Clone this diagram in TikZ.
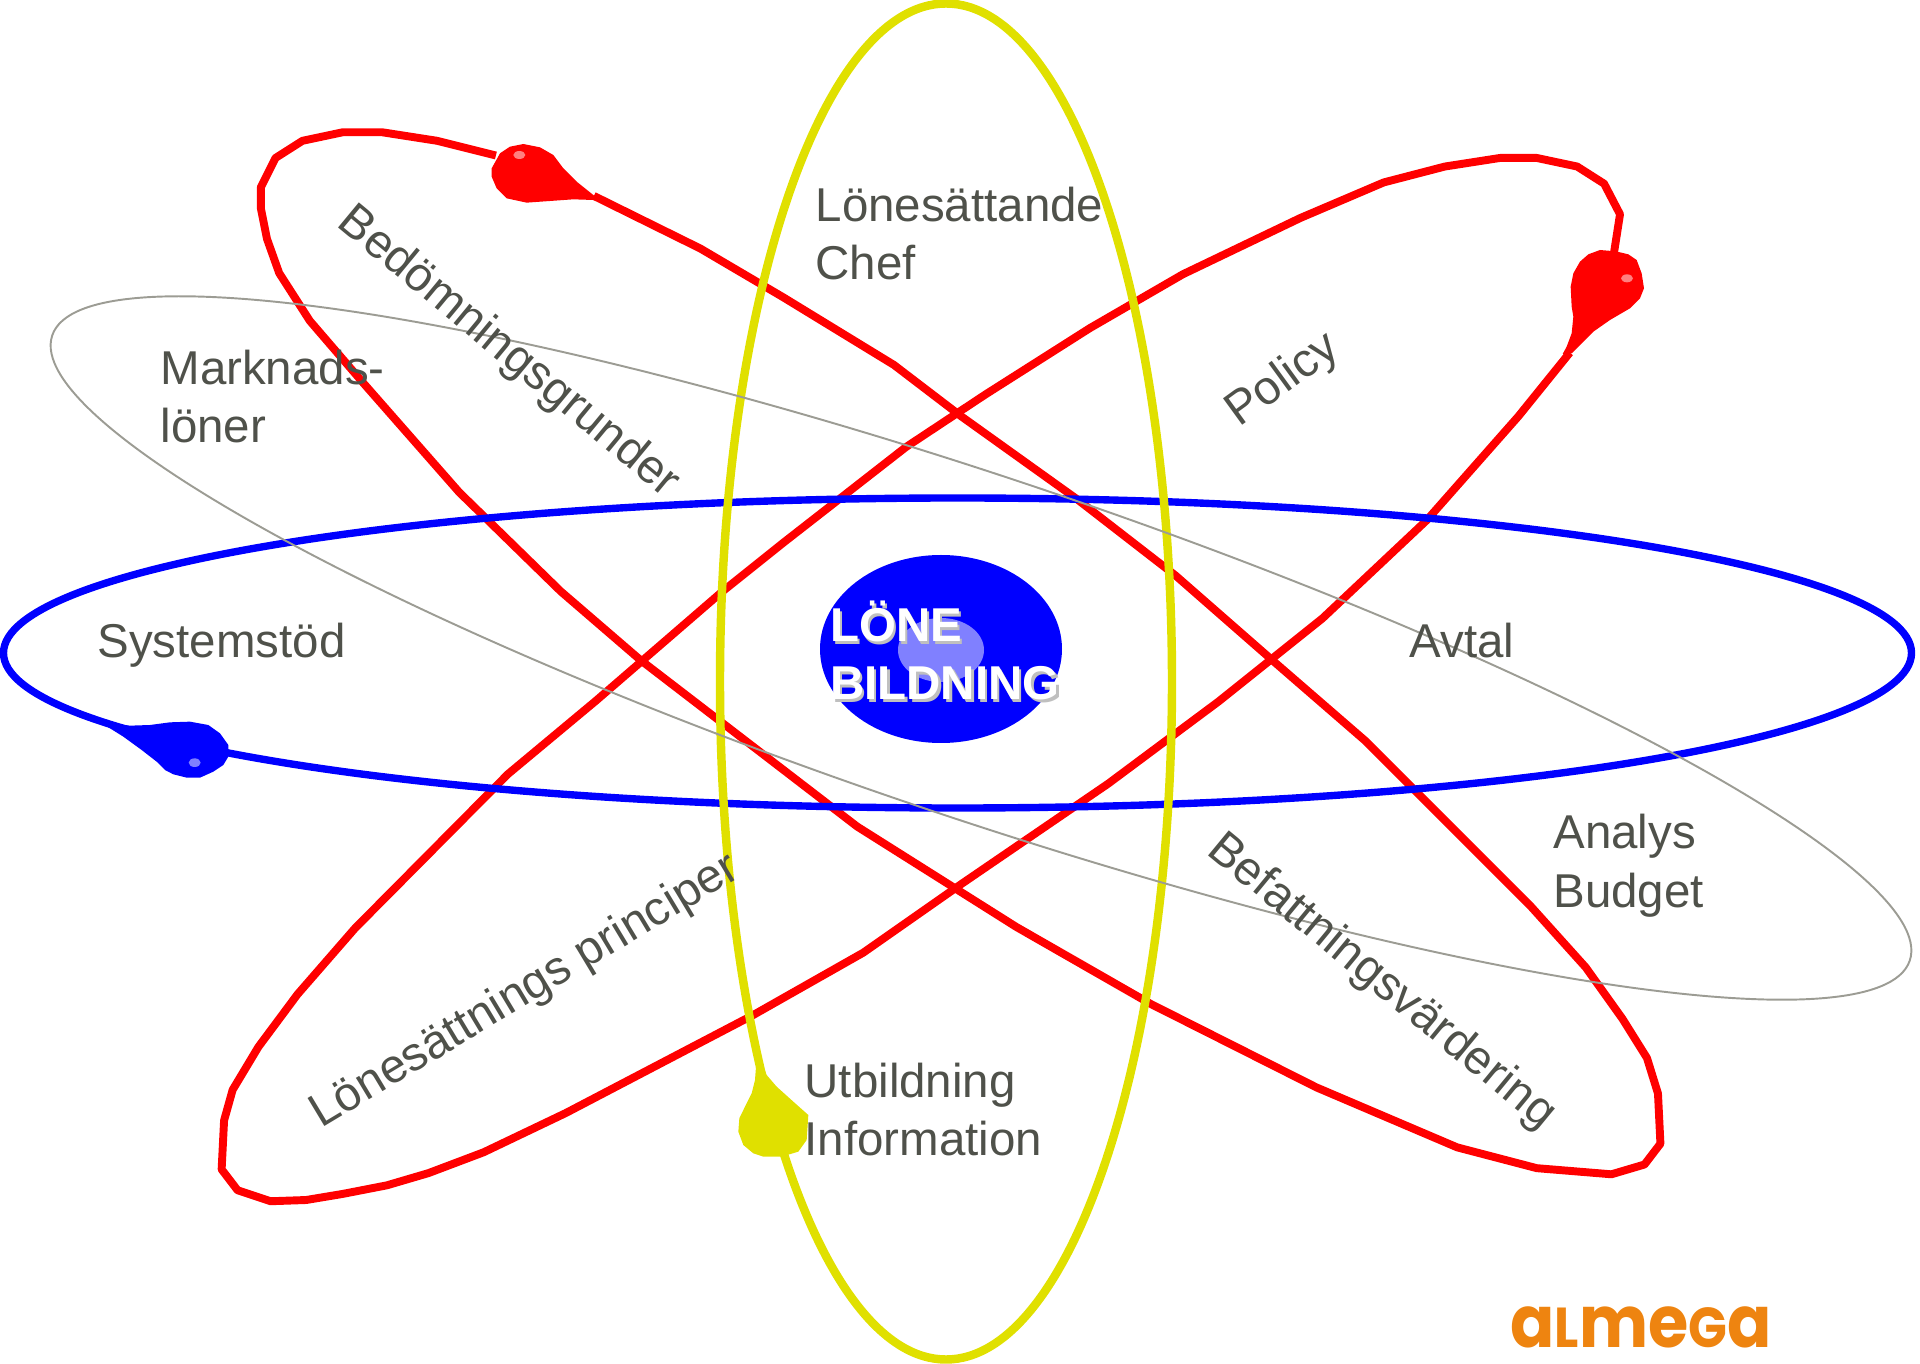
\documentclass[tikz,border=0pt]{standalone}
\usepackage{fontspec}
\setmainfont{Liberation Sans}
\newfontfamily\logofont{Poppins}
\usepackage{tikz}
\definecolor{orbityellow}{HTML}{E0E000}
\definecolor{orbitgray}{HTML}{9C9C94}
\definecolor{labelgray}{HTML}{4F514A}
\definecolor{almegaorange}{HTML}{EE8410}
\definecolor{glowblue}{HTML}{8080FF}
\definecolor{glowred}{HTML}{FF8080}
\newcommand{\logocap}[1]{{\fontsize{16}{16}\logofont\bfseries #1}}

\begin{document}
\begin{tikzpicture}[x=0.01cm,y=-0.01cm]
	\tikzstyle{every node}=[inner sep=0pt,font=\fontsize{13.5}{16.5}\selectfont]
	\tikzstyle{lbl}=[text=labelgray,align=left]
	\tikzstyle{redorbit}=[draw=red,line width=2.25pt,line join=round]
	\tikzstyle{shown}=[scale=1.2245]
	\useasboundingbox (0,0) rectangle (1920,1364);

	% orbits
	\begin{scope}[shown]
		\draw[redorbit] (405,127) -- (357,115) -- (312,108) -- (280,108) -- (247,115) -- (225,129) -- (213,153) -- (213,170) -- (218,195) -- (228,223) -- (253,262) -- (296,312) -- (375,402) -- (458,483) -- (523,539) -- (592,592) -- (700,675) -- (830,757) -- (940,820) -- (1075,888) -- (1190,937) -- (1255,954) -- (1316,959) -- (1343,951) -- (1356,934) -- (1354,893) -- (1345,864) -- (1325,832) -- (1295,790) -- (1250,740) -- (1115,605) -- (1040,540) -- (960,470) -- (880,408) -- (785,340) -- (730,298) -- (640,243) -- (572,203) -- (485,160);
		\draw[redorbit] (1318,207) -- (1323,175) -- (1310,150) -- (1288,136) -- (1255,129) -- (1225,129) -- (1180,136) -- (1130,149) -- (1062,178) -- (966,224) -- (890,268) -- (805,322) -- (740,365) -- (640,443) -- (590,483) -- (487,572) -- (415,632) -- (290,758) -- (243,812) -- (211,855) -- (190,890) -- (183,915) -- (181,955) -- (194,972) -- (221,981) -- (250,980) -- (280,975) -- (316,968) -- (350,958) -- (395,941) -- (462,909) -- (615,829) -- (705,778) -- (785,722) -- (905,640) -- (995,573) -- (1080,505) -- (1165,425) -- (1240,340) -- (1282,288);
	\end{scope}
	\draw[blue,line width=2.1pt] (957.5,653) ellipse [x radius=954,y radius=155];
	\draw[orbityellow,line width=2.4pt] (946,681.5) ellipse [x radius=226,y radius=678];
	\draw[orbitgray,line width=0.55pt,rotate around={-18.6:(981,648)}] (981,648) ellipse [x radius=980,y radius=170];

	% electrons
	\begin{scope}[shift={(460,120)},scale=1/3]
		\fill[red] (120,100) -- (150,80) -- (190,72) -- (240,82) -- (280,105) -- (310,145) -- (350,185) -- (400,225) -- (430,245) -- (400,240) -- (340,238) -- (270,243) -- (200,248) -- (140,235) -- (110,205) -- (95,170) -- (95,145) -- cycle;
		\fill[glowred] (178,105) ellipse [x radius=18,y radius=12];
	\end{scope}
	\begin{scope}[shift={(1530,220)},scale=1/3]
		\fill[red] (245,93) -- (210,90) -- (175,103) -- (150,125) -- (130,160) -- (122,200) -- (125,260) -- (130,290) -- (125,340) -- (110,380) -- (98,402) -- (125,400) -- (160,365) -- (190,335) -- (240,300) -- (300,265) -- (330,235) -- (342,205) -- (335,160) -- (320,120) -- (295,103) -- (270,97) -- cycle;
		\fill[glowred] (291,175) ellipse [x radius=18,y radius=12];
	\end{scope}
	\begin{scope}[shift={(80,690)},scale=1/3]
		\fill[blue] (55,95) -- (150,107) -- (210,105) -- (270,97) -- (330,95) -- (385,105) -- (420,130) -- (445,165) -- (445,200) -- (430,225) -- (400,245) -- (360,263) -- (320,263) -- (280,253) -- (255,240) -- (230,215) -- (185,180) -- (130,140) -- (90,115) -- cycle;
		\fill[glowblue] (344,218) ellipse [x radius=18,y radius=13];
	\end{scope}
	\begin{scope}[shift={(720,1050)},scale=1/3]
		\fill[orbityellow] (108,50) -- (105,90) -- (95,130) -- (75,170) -- (58,205) -- (55,245) -- (70,285) -- (100,310) -- (130,320) -- (185,320) -- (235,305) -- (260,270) -- (265,195) -- (220,155) -- (170,110) -- (140,75) -- (130,50) -- cycle;
	\end{scope}

	% nucleus
	\fill[blue] (941,649) ellipse [x radius=121,y radius=94];
	\fill[glowblue] (941,650) ellipse [x radius=43,y radius=32];
	\node[anchor=west,align=left,text=black!25,font=\fontsize{13.5}{16.5}\selectfont\bfseries] (coreshadow) at (832,653) {LÖNE\\BILDNING};
	\node[anchor=west,align=left,text=white,font=\fontsize{13.5}{16.5}\selectfont\bfseries] (core) at (829.5,650) {LÖNE\\BILDNING};

	% labels
	\begin{scope}[shown]
		\node[lbl,anchor=west] (chef) at (665.5,190.5) {Lönesättande\\Chef};
		\node[lbl,anchor=west] (market) at (130.5,324) {Marknads-\\löner};
		\node[lbl,anchor=west] (system) at (79,527) {Systemstöd};
		\node[lbl,anchor=west] (avtal) at (1150.5,523) {Avtal};
		\node[lbl,anchor=west] (budget) at (1268,707) {Analys\\Budget};
		\node[lbl,anchor=west] (info) at (656.5,906) {Utbildning\\Information};
		\node[lbl,rotate=36] (policy) at (1048,311) {Policy};
		\node[lbl,rotate=-39.6] (grounds) at (415,288) {Bedömningsgrunder};
		\node[lbl,rotate=31] (principles) at (429,810) {Lönesättnings principer};
		\node[lbl,rotate=-39.5] (jobs) at (1128,802) {Befattningsvärdering};
	\end{scope}
	\node[anchor=base,text=almegaorange,xscale=0.905,font=\fontsize{20.5}{20.5}\logofont\bfseries] (logo) at (1641,1347) {a\logocap{L}me\logocap{G}a};
\end{tikzpicture}
\end{document}
